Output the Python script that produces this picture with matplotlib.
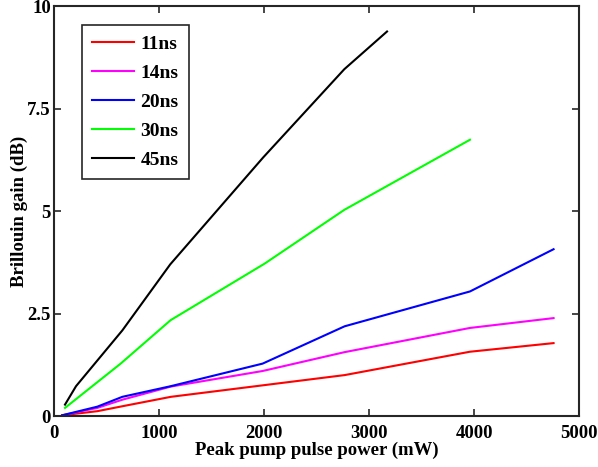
import matplotlib
matplotlib.use("Agg")
import matplotlib.pyplot as plt

plt.rcParams['font.family'] = ['Liberation Serif', 'DejaVu Serif']
plt.rcParams['font.weight'] = 'bold'

# pulse widths and their curves (power in mW, gain in dB)
x_11 = [75, 410, 648, 1110, 1984, 2765, 3959, 4755]
g_11 = [0.02, 0.12, 0.24, 0.47, 0.75, 1.00, 1.57, 1.78]

x_14 = [75, 410, 648, 1110, 1984, 2765, 3959, 4755]
g_14 = [0.02, 0.20, 0.40, 0.72, 1.10, 1.56, 2.15, 2.39]

x_20 = [75, 410, 648, 1110, 1984, 2765, 3959, 4755]
g_20 = [0.02, 0.23, 0.47, 0.73, 1.28, 2.19, 3.04, 4.07]

x_30 = [102, 632, 1108, 2004, 2762, 3959]
g_30 = [0.20, 1.28, 2.34, 3.72, 5.03, 6.74]

x_45 = [102, 207, 648, 1104, 1990, 2762, 3169]
g_45 = [0.28, 0.73, 2.09, 3.70, 6.31, 8.46, 9.38]

series = [
    ("11ns", x_11, g_11, "#ff0000"),
    ("14ns", x_14, g_14, "#ff00ff"),
    ("20ns", x_20, g_20, "#0000ff"),
    ("30ns", x_30, g_30, "#00ff00"),
    ("45ns", x_45, g_45, "#000000"),
]

fig = plt.figure(figsize=(5.98, 4.67), dpi=100)
ax = fig.add_axes([0.0908, 0.109, 0.8779, 0.878])

for name, xs, ys, col in series:
    ax.plot(xs, ys, color=col, lw=1.5, label=name)

ax.set_xlim(0, 5000)
ax.set_ylim(0, 10)
ax.set_xticks([0, 1000, 2000, 3000, 4000, 5000])
ax.set_yticks([0, 2.5, 5, 7.5, 10])
ax.set_yticklabels(["0", "2.5", "5", "7.5", "10"])
ax.tick_params(direction='in', top=True, right=True, length=5, width=1.2,
               labelsize=13.5, color='#262626')
ax.tick_params(axis='x', pad=6.5)
ax.tick_params(axis='y', pad=2.5)
for s in ax.spines.values():
    s.set_linewidth(1.5)
    s.set_color('#262626')
for lab in ax.get_xticklabels() + ax.get_yticklabels():
    lab.set_fontweight('bold')

ax.set_xlabel("Peak pump pulse power (mW)", fontsize=13.5, fontweight='bold')
ax.set_ylabel("Brillouin gain (dB)", fontsize=13.5, fontweight='bold')
ax.xaxis.set_label_coords(0.5, -0.063)
ax.yaxis.set_label_coords(-0.051, 0.5)

leg = ax.legend(loc='upper left', bbox_to_anchor=(0.052, 0.954), borderaxespad=0,
                fancybox=False, edgecolor='#262626', framealpha=1,
                prop={'size': 14, 'weight': 'bold'},
                handlelength=2.15, labelspacing=0.58, borderpad=0.55, handletextpad=0.32)
leg.get_frame().set_linewidth(1.2)

fig.savefig("out.png", dpi=100)
